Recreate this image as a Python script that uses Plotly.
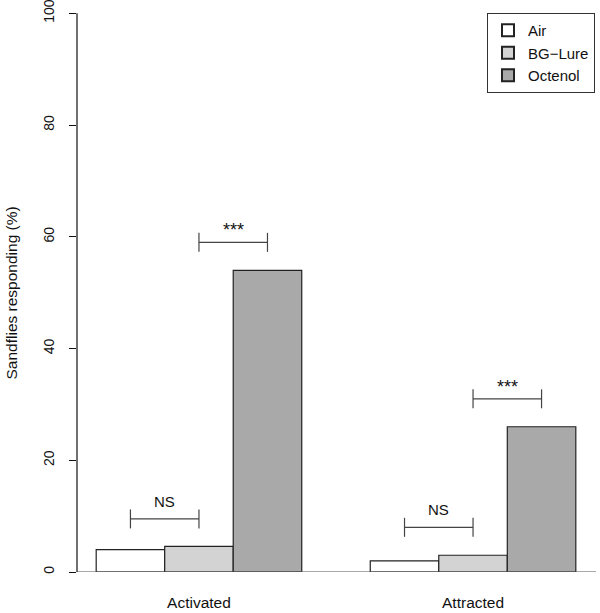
import plotly.graph_objects as go

categories = ["Activated", "Attracted"]
series_names = ["Air", "BG\u2212Lure", "Octenol"]
air = [4, 2]
bg_lure = [4.6, 3]
octenol = [54, 26]
series_colors = ["#ffffff", "#d3d3d3", "#a9a9a9"]

# significance brackets: (left bar index, right bar index, bracket height, label)
sig_left = [0, 1]
sig_right = [1, 2]
sig_heights_activated = [9.5, 59]
sig_heights_attracted = [8, 31]
sig_labels = ["NS", "***"]

y_ticks = [0, 20, 40, 60, 80, 100]
y_title = "Sandflies responding (%)"

FONT = "Liberation Sans, Arial, Helvetica, sans-serif"

group_centers = [2.5, 6.5]

fig = go.Figure()
for name, vals, col in zip(series_names, [air, bg_lure, octenol], series_colors):
    fig.add_trace(go.Bar(
        x=group_centers, y=vals, name=name,
        marker=dict(color=col, line=dict(color="#222222", width=1.2)),
        hoverinfo="skip",
    ))

# baseline
fig.add_shape(type="line", xref="paper", yref="y", x0=0, x1=1.002, y0=0, y1=0,
              line=dict(color="#555555", width=1.2))

tick_half = 1.7
for gc, heights in zip(group_centers, [sig_heights_activated, sig_heights_attracted]):
    for li, ri, h, lab in zip(sig_left, sig_right, heights, sig_labels):
        x0 = gc - 1 + li
        x1 = gc - 1 + ri
        col = "#444444"
        fig.add_shape(type="line", x0=x0, x1=x1, y0=h, y1=h, line=dict(color=col, width=1.2))
        fig.add_shape(type="line", x0=x0, x1=x0, y0=h - tick_half, y1=h + tick_half, line=dict(color=col, width=1.2))
        fig.add_shape(type="line", x0=x1, x1=x1, y0=h - tick_half, y1=h + tick_half, line=dict(color=col, width=1.2))
        is_ns = lab == "NS"
        fig.add_annotation(x=(x0 + x1) / 2, y=h + (3.1 if is_ns else 2.2), text=lab,
                           showarrow=False,
                           font=dict(family=FONT, size=15 if is_ns else 18, color="#111111"),
                           xanchor="center", yanchor="middle")

fig.add_annotation(xref="paper", yref="paper", x=-0.1255, y=0.5, text=y_title, textangle=-90,
                   showarrow=False, font=dict(family=FONT, size=15.5, color="#111111"),
                   xanchor="center", yanchor="middle")

fig.update_layout(
    width=600, height=613,
    margin=dict(l=77, r=5, t=13, b=41, autoexpand=False),
    paper_bgcolor="white", plot_bgcolor="white",
    barmode="group", bargap=0.25, bargroupgap=0,
    font=dict(family=FONT, color="#111111"),
    showlegend=True,
    legend=dict(
        x=1.0, y=1.0, xanchor="right", yanchor="top",
        bordercolor="#333333", borderwidth=1, bgcolor="white",
        font=dict(family=FONT, size=15, color="#111111"),
        itemsizing="constant", tracegroupgap=0,
    ),
    xaxis=dict(
        range=[0.72, 8.28], tickmode="array", tickvals=group_centers, ticktext=categories,
        showline=False, showgrid=False, zeroline=False, ticks="",
        tickfont=dict(family=FONT, size=15.5, color="#111111"),
        ticklabelstandoff=19, fixedrange=True, automargin=False,
    ),
    yaxis=dict(
        range=[0, 100.05], tickmode="array", tickvals=y_ticks,
        showline=False, showgrid=False, zeroline=False,
        ticks="outside", ticklen=7, tickcolor="#111111", tickwidth=1.2,
        tickangle=-90, ticklabeloverflow="allow",
        tickfont=dict(family=FONT, size=14, color="#111111"),
        ticklabelstandoff=9, fixedrange=True, automargin=False,
    ),
)

# y axis line from 0 to 100 only (R style)
fig.add_shape(type="line", xref="paper", yref="y", x0=0, x1=0, y0=y_ticks[0], y1=y_ticks[-1],
              line=dict(color="#111111", width=1.2))

fig.write_html(
    "out.html",
    config={"displayModeBar": False},
    post_script="document.body.style.margin='0';document.body.style.overflow='hidden';",
)
